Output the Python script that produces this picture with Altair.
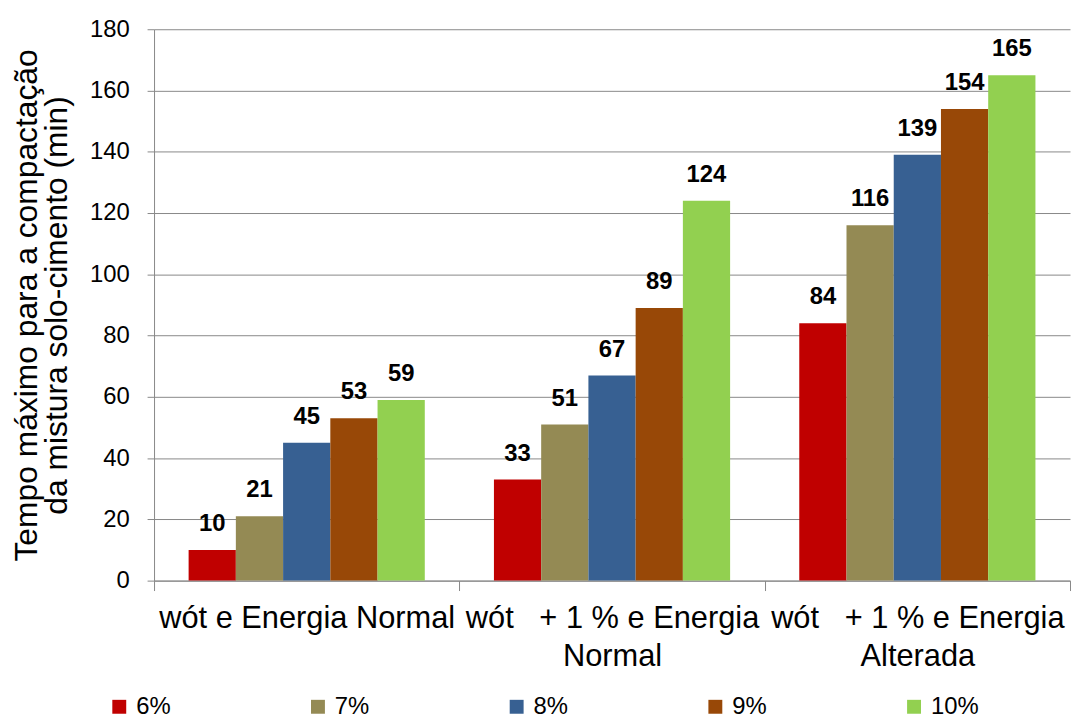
import altair as alt
import pandas as pd

groups = ["wót e Energia Normal", "wót\u00a0\u00a0 + 1 % e Energia|Normal", "wót\u00a0\u00a0 + 1 % e Energia|Alterada"]
series = ["6%", "7%", "8%", "9%", "10%"]
colors = ["#C00000", "#948A54", "#376092", "#984807", "#92D050"]
values = {
    "6%": [10, 33, 84],
    "7%": [21, 51, 116],
    "8%": [45, 67, 139],
    "9%": [53, 89, 154],
    "10%": [59, 124, 165],
}

rows = []
for s in series:
    for g, v in zip(groups, values[s]):
        rows.append({"grupo": g, "serie": s, "valor": v})
df = pd.DataFrame(rows)

FONT = "Liberation Sans"

x_enc = alt.X(
    "grupo:N",
    sort=groups,
    scale=alt.Scale(paddingInner=0, paddingOuter=0),
    axis=alt.Axis(
        title=None,
        labelAngle=0,
        labelFontSize=31,
        labelColor="#000000",
        labelFont=FONT,
        labelExpr="split(datum.label, '|')",
        labelLineHeight=38,
        labelLimit=500,
        labelOverlap=False,
        labelPadding=13,
        tickBand="extent",
        tickSize=10,
        tickColor="#888888",
        domainColor="#888888",
        grid=False,
    ),
)
xo_enc = alt.XOffset(
    "serie:N", sort=series, scale=alt.Scale(paddingOuter=0.732, paddingInner=0)
)
y_enc = alt.Y(
    "valor:Q",
    scale=alt.Scale(domain=[0, 180], nice=False),
    axis=alt.Axis(
        title=["Tempo máximo para a compactação", "da mistura solo-cimento (min)"],
        titleFontSize=32,
        titleFont=FONT,
        titleFontWeight="normal",
        titleColor="#000000",
        titlePadding=16,
        titleLineHeight=30,
        values=list(range(0, 181, 20)),
        labelFontSize=24,
        labelFont=FONT,
        labelColor="#000000",
        labelPadding=18,
        tickSize=7,
        tickColor="#888888",
        domainColor="#888888",
        gridColor="#888888",
        gridWidth=1,
    ),
)

bars = alt.Chart(df).mark_bar().encode(
    x=x_enc,
    xOffset=xo_enc,
    y=y_enc,
    color=alt.Color(
        "serie:N",
        sort=series,
        scale=alt.Scale(domain=series, range=colors),
        legend=alt.Legend(
            title=None,
            orient="none",
            legendX=-47,
            legendY=670,
            direction="horizontal",
            columns=5,
            gridAlign="all",
            columnPadding=122,
            symbolType="square",
            symbolSize=196,
            symbolStrokeWidth=0,
            labelFontSize=24,
            labelFont=FONT,
            labelColor="#000000",
            labelOffset=5,
            padding=0,
        ),
    ),
)

labels = alt.Chart(df).mark_text(
    baseline="alphabetic", dy=-19, fontSize=24, fontWeight="bold", font=FONT, color="#000000"
).encode(
    x=alt.X("grupo:N", sort=groups),
    xOffset=alt.XOffset("serie:N", sort=series),
    y="valor:Q",
    text="valor:Q",
)

chart = (
    alt.layer(bars, labels)
    .properties(
        width=922,
        height=555,
        autosize=alt.AutoSizeParams(type="none"),
        padding={"left": 147, "top": 19, "right": 2, "bottom": 150},
        background="#ffffff",
    )
    .configure_view(stroke="transparent")
)

chart.save("out.html", embed_options={"renderer": "svg", "actions": False})
